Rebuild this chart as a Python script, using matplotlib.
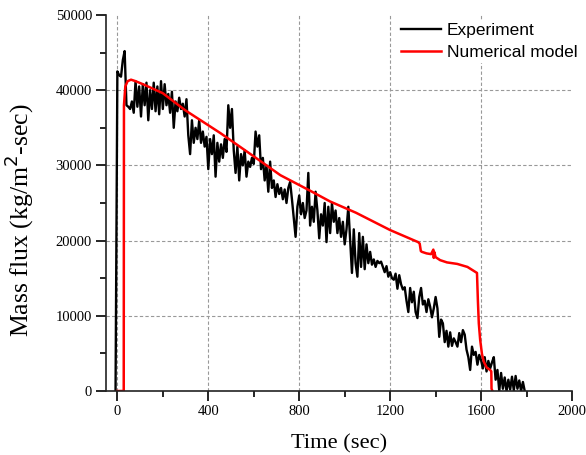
import numpy as np
import matplotlib.pyplot as plt
from matplotlib.ticker import MultipleLocator

# experiment: one sample every 8 s from t = 0, plus the starting point at t = -8
exp_start = (-8, 0)
exp_step = 8
exp_flux = [
    42500, 42000, 41800, 44000, 45200, 38000, 37800, 37500, 38500, 37000,
    41200, 37800, 40500, 36500, 40800, 38000, 41000, 36000, 40000, 37500,
    41000, 37200, 40500, 36800, 41200, 37500, 40800, 38000, 39500, 37000,
    39800, 35000, 38500, 37200, 39000, 37500, 38200, 36500, 38800, 34000,
    31500, 36000, 33000, 35000, 33500, 36000, 33000, 34500, 32500, 33800,
    29500, 33500, 31500, 34000, 28500, 33000, 30500, 32800, 31000, 33500,
    31800, 38000, 35000, 37500, 32000, 29000, 32500, 28000, 31500, 30000,
    32000, 28500, 30500, 29800, 31000, 30200, 34500, 32500, 34000, 29500,
    31000, 28000, 30000, 26500, 30500, 27000, 28000, 25800, 27500, 26200,
    27000, 25500, 26800, 25000, 27000, 27800, 25500, 23000, 20500, 24500,
    26000, 23500, 25000, 23000, 24000, 29000, 22000, 24500, 22500, 26500,
    24000, 20300, 23500, 22000, 25000, 19800, 24500, 21000, 25000, 22500,
    24000, 21000, 23000, 20500, 22500, 19500, 21500, 24500, 20000, 15700,
    21500, 17000, 15200, 21000, 16500, 20500, 16200, 19500, 17000, 18500,
    16800, 17500, 16500, 17300, 17000, 17200, 16500, 15800, 16600, 15200,
    15800, 15000, 14800, 15600, 13600, 15400, 14200, 13500, 13800, 12000,
    10500, 13700, 11800, 13200, 10500, 9700, 12500, 13700, 11500, 12000,
    10500, 12200, 11200, 9800, 11000, 12500, 11000, 7200, 9500, 9000,
    6500, 8000, 5900, 7800, 6000, 7000, 6500, 5900, 7700, 6500,
    8100, 7500, 5500, 4500, 2800, 5900, 4800, 5200, 3500, 4800,
    4100, 3000, 4500, 2600, 4000, 3000, 3800, 4500, 1500, 2800,
    0, 2400, 300, 1800, 0, 1500, 200, 1900, 100, 2000,
    300, 1400, 0, 1200, 0,
]

# numerical model, breakpoints
model_time = [0, 28, 29, 35, 45, 60, 80, 120, 200, 300, 453, 600, 717, 850,
              936, 1050, 1200, 1323, 1330, 1335, 1340, 1360, 1380, 1390,
              1392, 1394, 1400, 1420, 1450, 1495, 1540, 1582, 1586, 1590,
              1596, 1604, 1612, 1625, 1640, 1645, 1646, 1650]
model_flux = [0, 0, 38000, 40500, 41200, 41400, 41200, 40700, 39600, 37300,
              34300, 31200, 28700, 26600, 25200, 23700, 21400, 19800, 19600,
              18600, 18500, 18300, 18200, 18800, 17700, 18500, 17800, 17400,
              17100, 16900, 16500, 15700, 12000, 9000, 6800, 4900, 3900,
              3100, 2800, 2600, 300, 0]

exp_time = [exp_start[0]] + list(np.arange(len(exp_flux)) * exp_step)
exp_vals = [exp_start[1]] + exp_flux

fig = plt.figure(figsize=(5.86, 4.55), dpi=100)
ax = fig.add_axes([106/586, 1-391/455, (572-106)/586, (391-15)/455])

ax.plot(exp_time, exp_vals, color='black', lw=1.7, label='Experiment')
ax.plot(model_time, model_flux, color='red', lw=1.8, label='Numerical model')

ax.set_xlim(-50, 2000)
ax.set_ylim(0, 50000)
ax.xaxis.set_major_locator(MultipleLocator(400))
ax.xaxis.set_minor_locator(MultipleLocator(200))
ax.yaxis.set_major_locator(MultipleLocator(10000))
ax.yaxis.set_minor_locator(MultipleLocator(5000))

for s in ['top', 'right']:
    ax.spines[s].set_visible(False)
for s in ['left', 'bottom']:
    ax.spines[s].set_linewidth(1.2)
    ax.spines[s].set_color('#222222')

ax.tick_params(which='major', direction='out', length=7, width=1.2, pad=3)
ax.tick_params(which='minor', direction='out', length=4, width=1.2)
for lab in ax.get_xticklabels() + ax.get_yticklabels():
    lab.set_fontfamily('Liberation Serif')
    lab.set_fontsize(10.5)

# grid only on interior major ticks
for x in [0, 400, 800, 1200, 1600]:
    ax.axvline(x, color='#999999', ls=(0, (3, 2)), lw=0.8, zorder=0)
for y in [10000, 20000, 30000, 40000]:
    ax.axhline(y, color='#999999', ls=(0, (3, 2)), lw=0.8, zorder=0)

ax.set_xlabel('Time (sec)', fontfamily='Liberation Serif', fontsize=16.2, labelpad=12)
ax.set_ylabel('Mass flux (kg/m$^2$-sec)', fontfamily='Liberation Serif', fontsize=18.5)
ax.yaxis.set_label_coords(-0.15, 0.455)

leg = ax.legend(loc='upper left', bbox_to_anchor=(398/586, 1-20/455),
                bbox_transform=fig.transFigure, frameon=True, fancybox=False,
                edgecolor='none', facecolor='white', framealpha=1,
                borderpad=0.15, borderaxespad=0, handlelength=2.3,
                handletextpad=0.35, labelspacing=0.43,
                prop={'family': 'Liberation Sans', 'size': 12.5})

fig.savefig('out.png', dpi=100)
